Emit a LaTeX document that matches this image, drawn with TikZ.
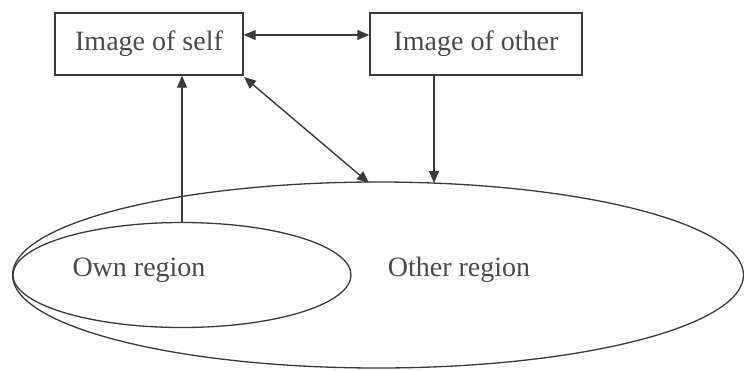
\documentclass[tikz,border=0pt]{standalone}
\usepackage{fontspec}
\setmainfont{Liberation Serif}
\usetikzlibrary{shapes.geometric,arrows.meta}
\definecolor{ln}{HTML}{3A3A3A}
\definecolor{tx}{HTML}{4A4A4A}
\tikzset{
  box/.style={draw=ln, line width=1.4pt, minimum width=188pt, minimum height=62pt, inner sep=0pt, text=tx, font=\fontsize{28}{32}\selectfont},
  oval/.style={draw=ln, line width=1.3pt, ellipse, inner sep=0pt},
  lbl/.style={text=tx, font=\fontsize{28}{32}\selectfont, inner sep=0pt},
  conn/.style={ln, line width=1.4pt, -{Triangle[length=12pt,width=10pt]}},
  dconn/.style={ln, line width=1.4pt, {Triangle[length=12pt,width=10pt]}-{Triangle[length=12pt,width=10pt]}}
}
\begin{document}
\begin{tikzpicture}[x=1pt,y=-1pt]
\useasboundingbox (0,0) rectangle (744,370);
\node[box] (self) at (149,44) {Image of self\hspace{4pt}};
\node[box, minimum width=212pt] (oimg) at (476,44) {Image of other\hspace{10pt}};
\node[oval, minimum width=731pt, minimum height=186pt] (other) at (378,275) {};
\node[oval, minimum width=338pt, minimum height=105pt] (own) at (182,275) {};
\node[lbl] (ownl) at (139,270) {Own region};
\node[lbl] (othl) at (459,270) {Other region};
\coordinate (oa) at (434,76);
\coordinate (ob) at (434,183);
\coordinate (da) at (244,77);
\coordinate (db) at (369,183);
\draw[dconn] (self.east |- 0,35) -- (oimg.west |- 0,35);
\draw[conn] (own.north) -- (self.south -| own.north);
\draw[dconn] (da) -- (db);
\draw[conn] (oa) -- (ob);
\end{tikzpicture}
\end{document}
